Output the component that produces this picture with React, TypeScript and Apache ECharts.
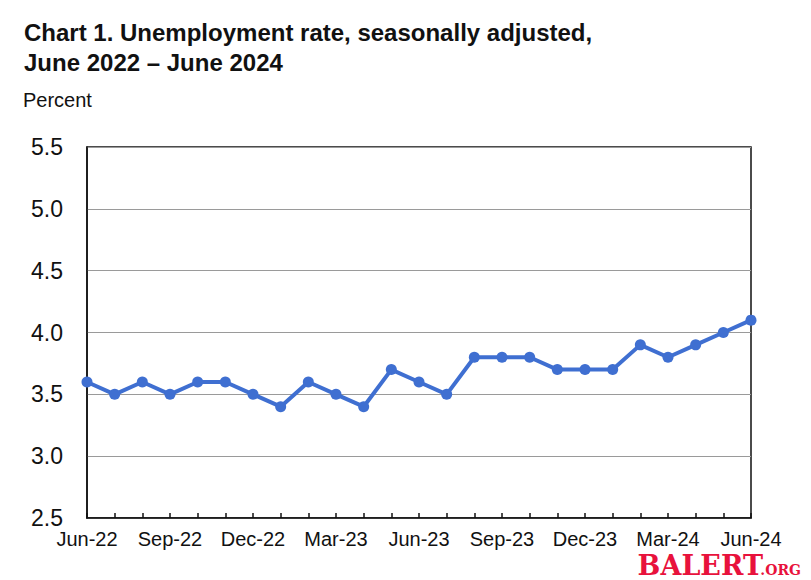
import React, { useEffect, useRef } from "react";
import * as echarts from "echarts";

const months = [
  "Jun-22", "Jul-22", "Aug-22", "Sep-22", "Oct-22", "Nov-22", "Dec-22",
  "Jan-23", "Feb-23", "Mar-23", "Apr-23", "May-23", "Jun-23", "Jul-23",
  "Aug-23", "Sep-23", "Oct-23", "Nov-23", "Dec-23", "Jan-24", "Feb-24",
  "Mar-24", "Apr-24", "May-24", "Jun-24",
];
const rates = [
  3.6, 3.5, 3.6, 3.5, 3.6, 3.6, 3.5, 3.4, 3.6, 3.5, 3.4, 3.7, 3.6, 3.5,
  3.8, 3.8, 3.8, 3.7, 3.7, 3.7, 3.9, 3.8, 3.9, 4.0, 4.1,
];
const titleLines = ["Chart 1. Unemployment rate, seasonally adjusted,", "June 2022 \u2013 June 2024"];
const yUnit = "Percent";

export default function App() {
  const ref = useRef<HTMLDivElement>(null);
  useEffect(() => {
    if (!ref.current) return;
    const chart = echarts.init(ref.current, null, { renderer: "svg" });
    const font = "'Liberation Sans', Arial, sans-serif";
    chart.setOption({
      animation: false,
      backgroundColor: "#ffffff",
      title: {
        text: titleLines.join("\n"),
        left: 11,
        top: 4,
        textStyle: { fontFamily: font, fontWeight: "bold", fontSize: 24, lineHeight: 30, color: "#111" },
      },
      graphic: [
        {
          type: "text",
          left: 15,
          top: 82,
          style: { text: yUnit, font: `20px ${font}`, fill: "#111" },
        },
        {
          type: "text",
          right: 40,
          top: 544,
          style: {
            text: "BALERT",
            font: "bold 27px 'DejaVu Serif', serif",
            lineHeight: 27,
            fill: "#e8123c",
          },
        },
        {
          type: "text",
          right: 2,
          top: 555,
          style: {
            text: ".ORG",
            font: "bold 14px 'DejaVu Serif', serif",
            lineHeight: 14,
            fill: "#e8123c",
          },
        },
      ],
      grid: {
        left: 79,
        right: 52,
        top: 139,
        bottom: 62,
        show: true,
        borderColor: "#111",
        borderWidth: 1.5,
        containLabel: false,
      },
      xAxis: {
        type: "category",
        data: months,
        boundaryGap: false,
        axisLine: { lineStyle: { color: "#111", width: 1.5 } },
        axisTick: { inside: true, length: 5, interval: 0, lineStyle: { color: "#111", width: 1.5 } },
        axisLabel: {
          interval: 2,
          fontFamily: font,
          fontSize: 20,
          color: "#111",
          margin: 11,
          showMaxLabel: true,
        },
        splitLine: { show: false },
      },
      yAxis: {
        type: "value",
        min: 2.5,
        max: 5.5,
        interval: 0.5,
        axisLine: { show: true, lineStyle: { color: "#111", width: 1.5 } },
        axisTick: { show: false },
        axisLabel: {
          fontFamily: font,
          fontSize: 23,
          color: "#111",
          margin: 24,
          formatter: (v: number) => v.toFixed(1),
        },
        splitLine: { lineStyle: { color: "#9a9a9a", width: 1 } },
      },
      series: [
        {
          type: "line",
          data: rates,
          symbol: "circle",
          symbolSize: 11,
          lineStyle: { color: "#3f6fd1", width: 4 },
          itemStyle: { color: "#3f6fd1" },
        },
      ],
    });
    return () => chart.dispose();
  }, []);
  return <div ref={ref} style={{ width: 795, height: 572 }} />;
}
